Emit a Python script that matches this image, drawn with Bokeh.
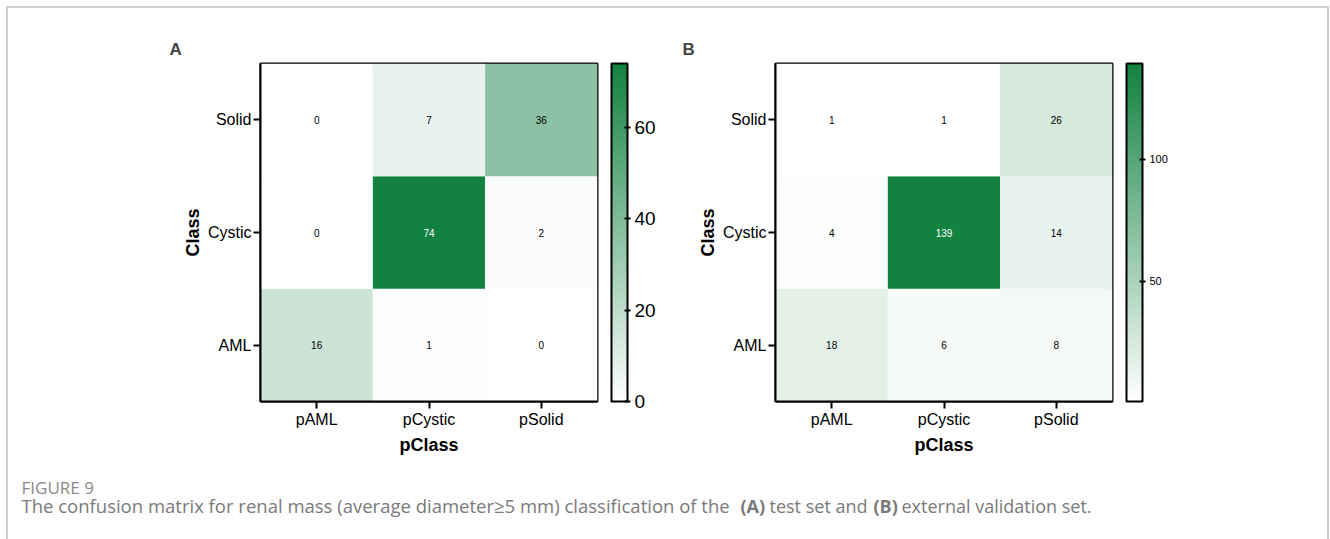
import numpy as np
from bokeh.plotting import figure
from bokeh.models import (ColumnDataSource, LinearColorMapper, ColorBar, FactorRange,
                          FixedTicker, Range1d, CategoricalAxis)
from bokeh.layouts import row, column
from bokeh.embed import file_html
from bokeh.resources import INLINE
from bokeh.core.properties import value

# ---------------- data ----------------
pred_classes = ["pAML", "pCystic", "pSolid"]
true_classes = ["AML", "Cystic", "Solid"]
# rows = true class (AML, Cystic, Solid), columns = predicted class
cm_test = [[16, 1, 0],
           [0, 74, 2],
           [0, 7, 36]]
cm_external = [[18, 6, 8],
               [4, 139, 14],
               [1, 1, 26]]
cbar_ticks_test = [0, 20, 40, 60]
cbar_ticks_external = [50, 100]
panel_labels = ["A", "B"]
x_title = "pClass"
y_title = "Class"
caption_head = "FIGURE 9"
caption_parts = ["The confusion matrix for renal mass (average diameter\u22655 mm) classification of the",
                 "(A)", "test set and", "(B)", "external validation set."]
caption_bold = [False, True, False, True, False]

# ---------------- style ----------------
FONT = "Liberation Sans"
lo = np.array([255, 255, 255])
hi = np.array([19, 130, 65])
palette = ['#%02x%02x%02x' % tuple(np.round(lo + (hi - lo) * t).astype(int))
           for t in np.linspace(0, 1, 256)]

OFF = 8  # page offset of content (margin + border)


def make_panel(cm, label, ticks, tick_size, width, min_left, min_right, title_offset):
    xs, ys, vals = [], [], []
    for i, t in enumerate(true_classes):
        for j, pc in enumerate(pred_classes):
            xs.append(pc)
            ys.append(t)
            vals.append(cm[i][j])
    vmin, vmax = min(vals), max(vals)
    mapper = LinearColorMapper(palette=palette, low=vmin, high=vmax)
    src = ColumnDataSource(dict(x=xs, y=ys, v=vals, label=[str(v) for v in vals],
                                tc=["white" if v > 0.6 * vmax else "black" for v in vals]))
    p = figure(x_range=FactorRange(*pred_classes), y_range=FactorRange(*true_classes),
               width=width, height=462, output_backend="svg", toolbar_location=None,
               min_border_left=min_left, min_border_right=min_right,
               min_border_top=55, min_border_bottom=69)
    p.rect("x", "y", 1, 1, source=src, fill_color={"field": "v", "transform": mapper},
           line_color=None)
    p.text("x", "y", text="label", source=src, text_align="center", text_baseline="middle",
           text_font=value(FONT), text_font_size="10px", text_color="tc")
    p.xgrid.visible = False
    p.ygrid.visible = False
    p.outline_line_color = "black"
    p.outline_line_width = 2
    p.x_range.range_padding = 0
    p.y_range.range_padding = 0
    for ax in (p.xaxis[0], p.yaxis[0]):
        ax.axis_line_width = 2
        ax.axis_line_color = "black"
        ax.major_tick_line_width = 2
        ax.major_tick_line_color = "black"
        ax.major_tick_out = 7
        ax.major_tick_in = 0
        ax.minor_tick_line_color = None
        ax.major_label_text_font = FONT
        ax.major_label_text_font_size = "16px"
        ax.major_label_text_color = "black"
        ax.axis_label_text_font = FONT
        ax.axis_label_text_font_size = "18px"
        ax.axis_label_text_font_style = "bold"
        ax.axis_label_text_color = "black"
        ax.major_label_standoff = 2
    p.xaxis.axis_label = x_title
    p.yaxis.axis_label = y_title
    p.xaxis.axis_label_standoff = 4
    p.yaxis.axis_label_standoff = 2
    p.yaxis.major_label_orientation = "horizontal"

    # invisible spacer axis: gap between heatmap and colour bar
    gap = CategoricalAxis(axis_line_color=None, major_tick_line_alpha=0,
                          major_tick_out=14, major_tick_in=0,
                          minor_tick_line_color=None,
                          major_label_text_font_size="0px", major_label_text_alpha=0,
                          major_label_standoff=0)
    p.add_layout(gap, "right")

    cb = ColorBar(color_mapper=mapper, ticker=FixedTicker(ticks=ticks), width=16,
                  margin=0, padding=0, bar_line_color="black", bar_line_width=2,
                  major_tick_in=3, major_tick_out=3, major_tick_line_color="black",
                  major_tick_line_width=2, label_standoff=4,
                  major_label_text_font=FONT, major_label_text_font_size=tick_size,
                  major_label_text_color="black",
                  border_line_color=None, background_fill_color=None)
    p.add_layout(cb, "right")

    p.title.text = label
    p.title.text_font = FONT
    p.title.text_font_size = "17px"
    p.title.text_font_style = "bold"
    p.title.align = "left"
    p.title.offset = title_offset
    return p


pA = make_panel(cm_test, panel_labels[0], cbar_ticks_test, "19px",
                657, 252, 68, -91)
pB = make_panel(cm_external, panel_labels[1], cbar_ticks_external, "11px",
                662, 110, 215, -93)

# caption
pc = figure(width=1319, height=70, x_range=Range1d(0, 1319), y_range=Range1d(70, 0),
            min_border=0, toolbar_location=None, output_backend="svg")
pc.axis.visible = False
pc.xgrid.visible = False
pc.ygrid.visible = False
pc.outline_line_color = None
pc.text(x=[21 - OFF], y=[17], text=[caption_head], text_font=value("Open Sans"),
        text_font_size="17px", text_color="#8a8a8a", text_baseline="middle")
cap_x = [21, 740, 769, 873, 901]
cap_size = ["18.5px", "18px", "18px", "18px", "18px"]
for t, b, x, s in zip(caption_parts, caption_bold, cap_x, cap_size):
    pc.text(x=[x - OFF], y=[35], text=[t], text_font=value("Open Sans"),
            text_font_size=s, text_color="#7a7a7a", text_baseline="middle",
            text_font_style="bold" if b else "normal")

layout = column(row(pA, pB), pc, margin=(6, 0, 0, 6),
                styles={"border-top": "2px solid #d0d0d0",
                        "border-left": "2px solid #d0d0d0",
                        "border-right": "2px solid #d0d0d0"})

open("out.html", "w").write(file_html(layout, INLINE))
